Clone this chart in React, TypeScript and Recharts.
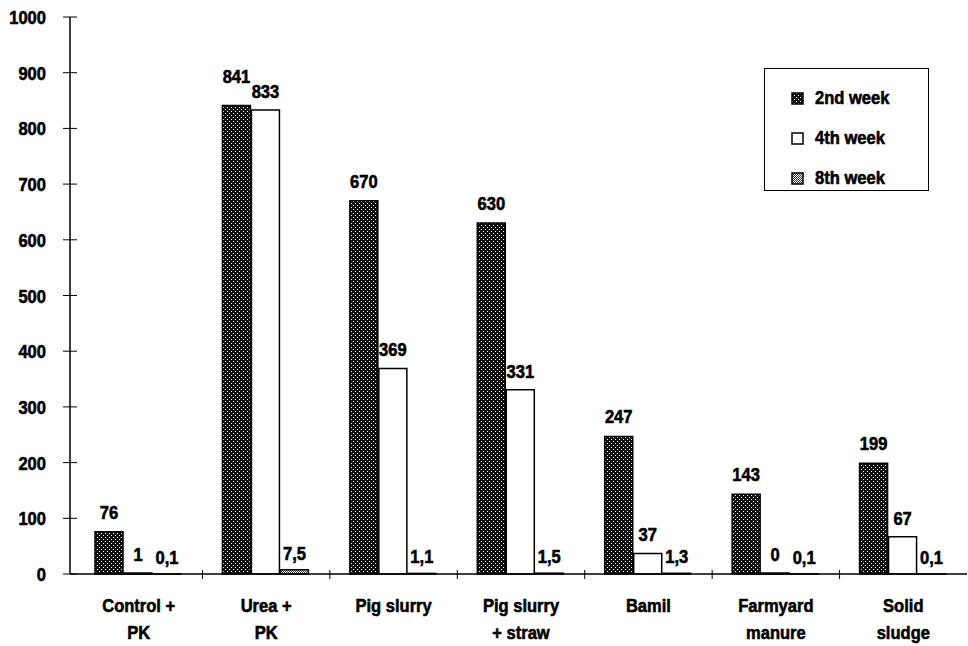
import React from 'react';
import { BarChart, Bar, XAxis, YAxis, Legend, LabelList } from 'recharts';

const categories = [
  'Control +\nPK',
  'Urea +\nPK',
  'Pig slurry',
  'Pig slurry\n+ straw',
  'Bamil',
  'Farmyard\nmanure',
  'Solid\nsludge',
];
const week2 = [76, 841, 670, 630, 247, 143, 199];
const week4 = [1, 833, 369, 331, 37, 0, 67];
const week8 = [0.1, 7.5, 1.1, 1.5, 1.3, 0.1, 0.1];
const yTicks = [0, 100, 200, 300, 400, 500, 600, 700, 800, 900, 1000];

const data = categories.map((name, i) => ({
  name,
  w2: week2[i],
  w4: week4[i],
  w8: week8[i],
}));

const W = 968;
const H = 646;
const LEFT = 70;
const RIGHT = 1;
const PAD_L = 5;
const BAND = (W - LEFT - RIGHT - PAD_L) / categories.length;
const FONT = '"Liberation Sans", Arial, sans-serif';
const SQUEEZE = 0.87;

const fmt = (v) => String(v).replace('.', ',');

// heavy bold text squeezed horizontally, close to the condensed poster font of the original
const CText = ({ x, y, anchor = 'middle', children }) => (
  <text
    transform={`translate(${x},${y}) scale(${SQUEEZE},1)`}
    textAnchor={anchor}
    fontFamily={FONT}
    fontWeight={700}
    fontSize={19}
    fill="#000"
    stroke="#000"
    strokeWidth={0.6}
  >
    {children}
  </text>
);

const CategoryTick = ({ x, y, payload, index }) => {
  const lines = String(payload.value).split('\n');
  return (
    <g>
      {index > 0 && (
        <line x1={x - BAND / 2} x2={x - BAND / 2} y1={y - 4} y2={y + 5} stroke="#000" strokeWidth={1} />
      )}
      {lines.map((l, i) => (
        <CText key={i} x={x} y={y + 38 + i * 27}>
          {l}
        </CText>
      ))}
    </g>
  );
};

const ValueTick = ({ x, y, payload }) => (
  <g>
    <line x1={x - 7} x2={x + 7} y1={y} y2={y} stroke="#000" strokeWidth={1} />
    <CText x={x - 24} y={y + 7} anchor="end">
      {payload.value}
    </CText>
  </g>
);

const makeLabel = (gap, crowdLift) => (props) => {
  const { x, y, width, value, index } = props;
  const lift = crowdLift && Math.abs(week2[index] - week4[index]) < 50 ? 10 : 0;
  return (
    <CText x={Number(x) + Number(width) / 2} y={Number(y) - gap - lift}>
      {fmt(value)}
    </CText>
  );
};

const LegendBox = ({ payload }) => (
  <div
    style={{
      border: '1.5px solid #000',
      width: 165,
      height: 123,
      boxSizing: 'border-box',
      background: '#fff',
      paddingTop: 9,
    }}
  >
    {(payload || []).map((p) => (
      <div key={p.value} style={{ display: 'flex', alignItems: 'center', height: 40, paddingLeft: 26 }}>
        <svg width={13} height={13} style={{ marginRight: 11 }}>
          <rect x={1} y={1} width={11} height={11} fill={p.payload.fill} stroke="#000" strokeWidth={1.5} />
        </svg>
        <span
          style={{
            fontFamily: FONT,
            fontWeight: 700,
            fontSize: 19,
            color: '#000',
            WebkitTextStroke: '0.6px #000',
            display: 'inline-block',
            transform: `scaleX(${SQUEEZE})`,
            transformOrigin: 'left center',
          }}
        >
          {p.value}
        </span>
      </div>
    ))}
  </div>
);

export default function App() {
  return (
    <div style={{ position: 'absolute', left: 0, top: 0, width: W, height: H, background: '#fff' }}>
      <BarChart
        width={W}
        height={H}
        data={data}
        margin={{ top: 17, right: RIGHT, left: 0, bottom: 0 }}
        barCategoryGap={20}
        barGap={1}
      >
        <defs>
          <pattern id="dots2" width={4} height={4} patternUnits="userSpaceOnUse">
            <rect width={4} height={4} fill="#111" />
            <rect x={1} y={1} width={1} height={1} fill="#fff" />
            <rect x={3} y={3} width={1} height={1} fill="#fff" />
          </pattern>
          <pattern id="gray8" width={2} height={2} patternUnits="userSpaceOnUse">
            <rect width={2} height={2} fill="#fff" />
            <rect x={0} y={0} width={1} height={1} fill="#333" />
            <rect x={1} y={1} width={1} height={1} fill="#333" />
          </pattern>
        </defs>
        <XAxis
          dataKey="name"
          interval={0}
          height={72}
          padding={{ left: PAD_L, right: 0 }}
          tickSize={0}
          tickMargin={0}
          tickLine={false}
          axisLine={{ stroke: '#000', strokeWidth: 1.5 }}
          tick={<CategoryTick />}
        />
        <XAxis xAxisId="top" dataKey="name" orientation="top" height={0} tick={false} tickLine={false} axisLine={{ stroke: '#000', strokeWidth: 1.5 }} />
        <YAxis
          domain={[0, 1000]}
          ticks={yTicks}
          width={LEFT}
          tickSize={0}
          tickMargin={0}
          tickLine={false}
          axisLine={{ stroke: '#000', strokeWidth: 1.5 }}
          tick={<ValueTick />}
        />
        <YAxis yAxisId="right" orientation="right" domain={[0, 1000]} width={0} tick={false} tickLine={false} axisLine={{ stroke: '#000', strokeWidth: 1.5 }} />
        <Legend
          layout="vertical"
          align="center"
          verticalAlign="middle"
          content={<LegendBox />}
          wrapperStyle={{ left: 764, top: 68, width: 165, height: 123 }}
        />
        <Bar dataKey="w2" name="2nd week" fill="url(#dots2)" stroke="#000" strokeWidth={1.5} isAnimationActive={false}>
          <LabelList dataKey="w2" content={makeLabel(13, true)} />
        </Bar>
        <Bar dataKey="w4" name="4th week" fill="#fff" stroke="#000" strokeWidth={1.5} minPointSize={1} isAnimationActive={false}>
          <LabelList dataKey="w4" content={makeLabel(12, false)} />
        </Bar>
        <Bar dataKey="w8" name="8th week" fill="url(#gray8)" stroke="#000" strokeWidth={1.5} isAnimationActive={false}>
          <LabelList dataKey="w8" content={makeLabel(10, false)} />
        </Bar>
      </BarChart>
    </div>
  );
}
